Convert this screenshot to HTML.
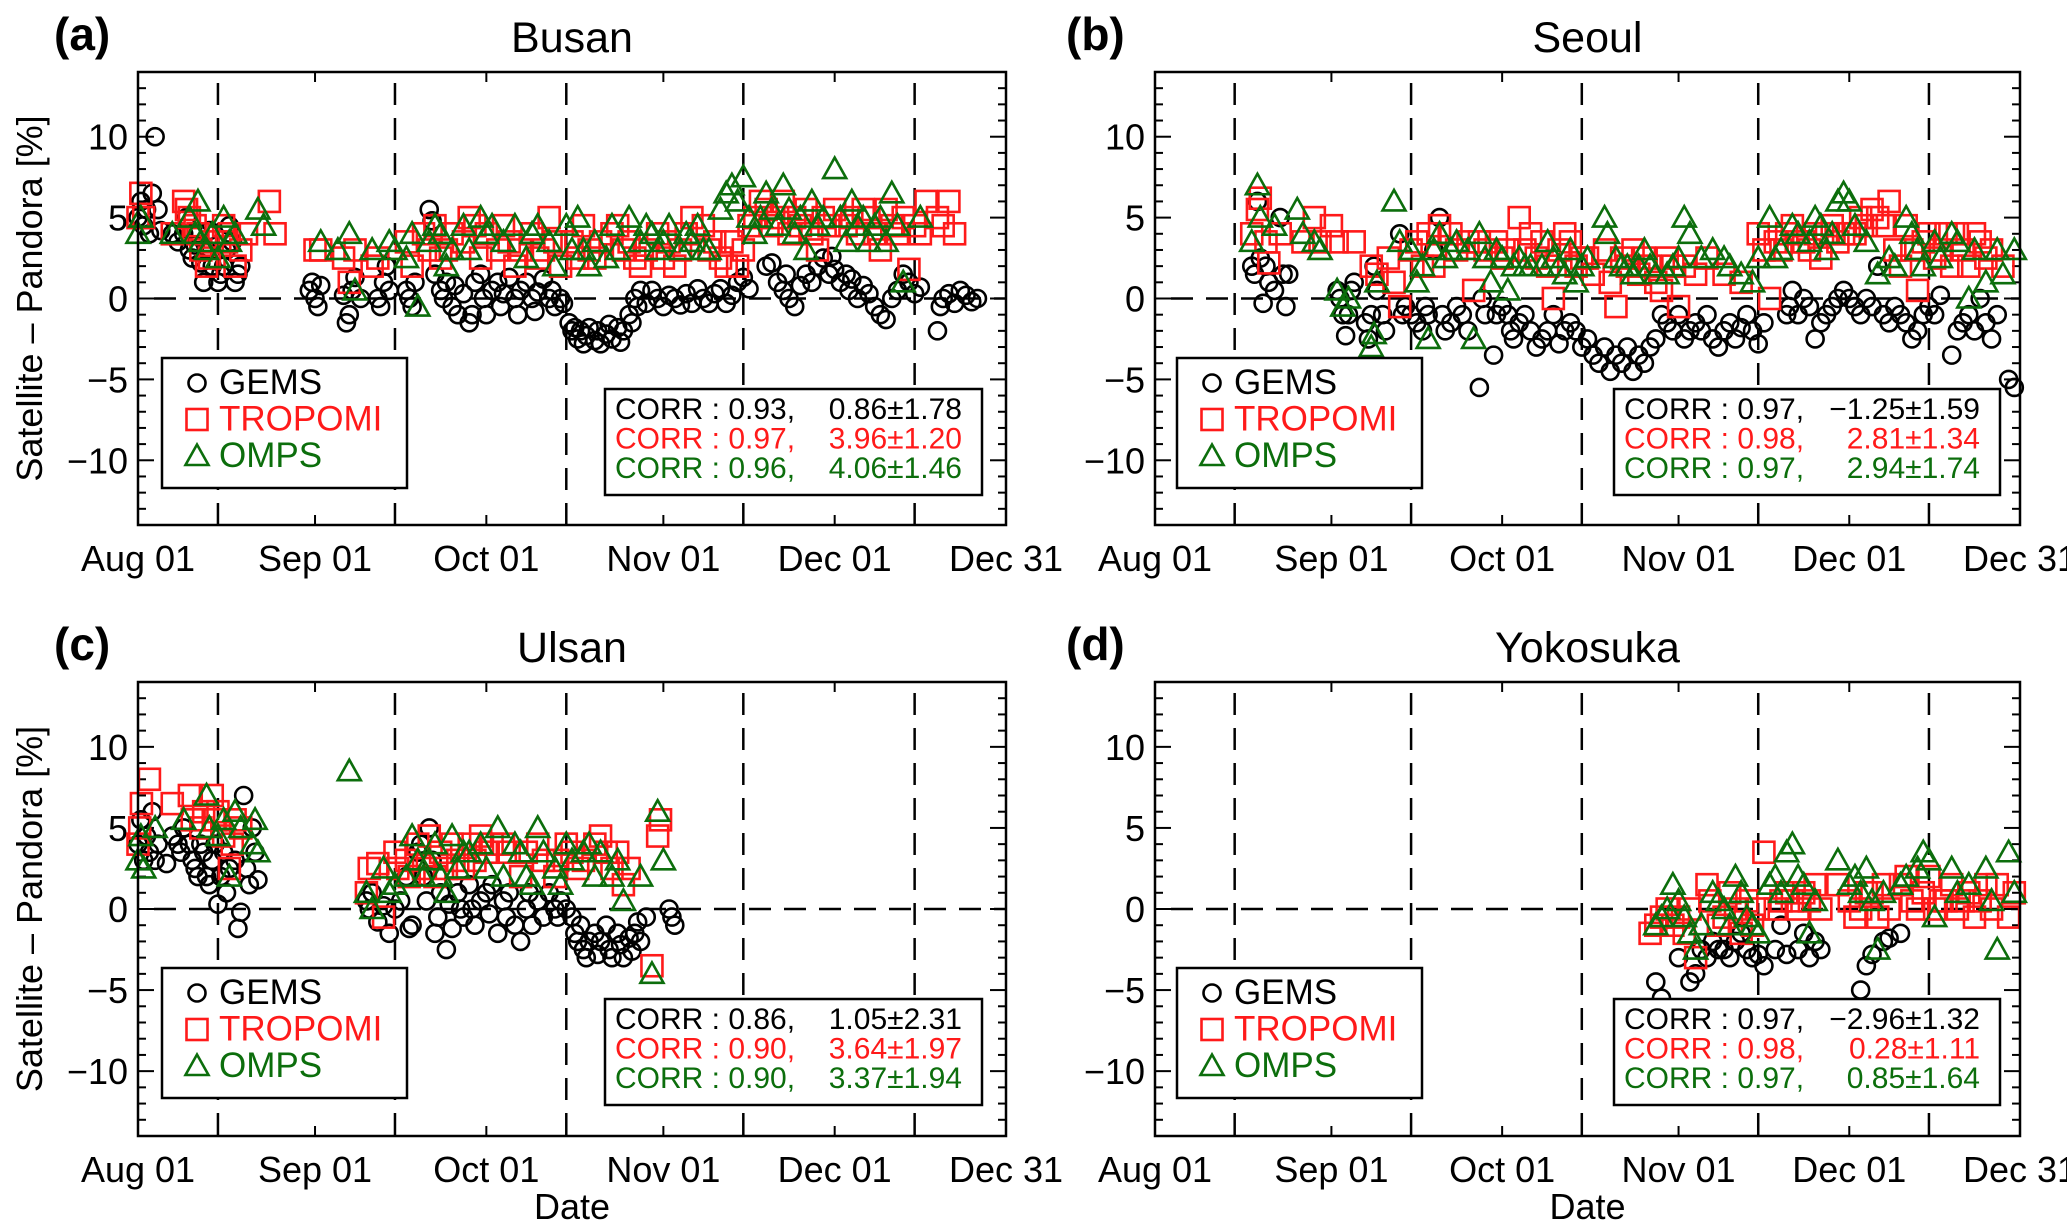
<!DOCTYPE html>
<html><head><meta charset="utf-8"><title>Satellite - Pandora</title>
<style>
html,body{margin:0;padding:0;background:#fff;}
svg{display:block;font-family:"Liberation Sans",Arial,sans-serif;}
</style></head>
<body>
<svg id="fig" width="2067" height="1229" viewBox="0 0 2067 1229" xmlns="http://www.w3.org/2000/svg"></svg>
<script>
// ---- shared axis data ----
const monthLabels = ['Aug 01','Sep 01','Oct 01','Nov 01','Dec 01','Dec 31'];
const monthDays = [0,31,61,92,122,152];
const dashDays = [14,45,75,106,136];
const yTickValues = [-10,-5,0,5,10];
const yTickLabels = ['\u221210','\u22125','0','5','10'];

// ---- Busan ----
const busanGems = [[0,5],[0.5,6],[1,4.5],[1.5,5.5],[2,4],[2.5,6.5],[3,10],[3.5,5.5],[4,4.2],[6,4],[7,3.5],[8,4],[8.5,5],[9,3],[9.5,2.5],[10,3.3],[10.5,4],[11,2.2],[11.5,1],[12,3],[12.5,4.2],[13,2],[14,1],[14.5,1.5],[15,2],[15.5,3],[16,4.5],[16.5,3.5],[17,1],[17.5,1.5],[18,2],[30,0.5],[30.5,1],[31,0],[31.5,-0.5],[32,0.8],[36,0.2],[36.5,-1.5],[37,-1],[37.5,0.5],[38,1.3],[39,0],[42,0],[42.5,-0.5],[43,1],[43.5,2],[44,0.5],[47,0.5],[47.5,0],[48,-0.5],[48.5,1],[51,5.5],[51.5,4.8],[52,1.5],[53,0.5],[53.5,0],[54,1],[55,-0.5],[55.5,0.8],[56,-1],[57,0.3],[58,-1.5],[58.5,-1],[59,1],[60,1.5],[60.5,0],[61,-1],[62,0.5],[63,1],[63.5,-0.5],[64,0.3],[65,1.3],[66,0],[66.5,-1],[67,0.5],[68,1],[69,0],[69.5,-0.8],[70,0.4],[71,1.2],[72,0],[72.5,0.5],[73,-0.5],[74,0],[74.5,-0.3],[75.5,-1.5],[76,-2],[76.5,-1.8],[77,-2.5],[77.5,-2],[78,-2.8],[78.5,-2.3],[79,-1.8],[80,-2.6],[80.5,-2],[81,-2.8],[82,-2.2],[82.5,-1.6],[83,-2.5],[84,-1.8],[84.5,-2.7],[85,-2],[86,-1],[86.5,-1.5],[87,0],[87.5,-0.5],[88,0.5],[89,-0.3],[90,0.5],[91,0],[92,-0.5],[93,0.2],[94,0],[95,-0.4],[96,0.3],[97,-0.3],[98,0.6],[99,0],[100,-0.3],[101,0.3],[102,0.6],[103,-0.3],[104,0.2],[105,1],[106,1.3],[107,0.6],[110,2],[111,2.2],[112,1],[113,0.5],[113.5,1.5],[114,0],[115,-0.5],[116,0.8],[117,1.5],[118,1],[119,2],[120,2.5],[121,1.5],[121.5,2.6],[122,1.8],[123,1],[124,1.5],[124.5,0.5],[125,1.2],[126,0],[127,0.8],[128,0.3],[129,-0.5],[130,-1],[131,-1.3],[132,0],[133,0.5],[134,1.5],[135,1],[136,0.3],[137,0.7],[140,-2],[140.5,-0.5],[141,0],[142,0.3],[143,-0.3],[144,0.5],[145,0.2],[146,-0.2],[147,0]];
const busanTropomi = [[0,5],[0.5,6.5],[1,5],[6,4],[8,6],[8.5,5.5],[9,5],[10,4.5],[10.5,4],[11,3],[12,2],[12.5,2.5],[13,3.5],[15,4.5],[15.5,3.5],[16,4],[17,2],[18,3],[19,4],[23,6],[24,4],[31,3],[32,3],[36,2.5],[37,1],[38,3],[41,2],[42,2.5],[47,3.5],[48,2],[50,4],[51,3],[52,4.5],[53,2.5],[54,3],[55,4],[57,3.5],[58,5],[59,4.5],[60,2.5],[61,4],[63,3],[64,4.5],[65,3.5],[66,2],[67,3],[69,4],[70,2.5],[71,3],[72,5],[73,3.5],[74,2],[76,3.5],[77,2.5],[78,4.5],[79,3],[80,2.5],[81,3.5],[83,4],[84,4.5],[85,3],[86,3.5],[87,2.5],[88,2],[89,3],[91,4],[92,2.5],[93,3.5],[94,2],[95,3],[96,4],[97,5],[99,4.5],[100,3],[101,3.5],[102,2.5],[103,2],[104,3.5],[105,2],[106,3],[107,4.5],[108,5],[109,6],[110,5.5],[111,4.5],[112,5],[113,6],[114,4],[115,5],[116,4.5],[117,5.5],[118,4],[119,3],[120,5],[121,4.5],[122,5.5],[124,4.5],[125,5],[126,4],[127,5.5],[128,5],[129,4],[130,3],[131,5.5],[132,4.5],[133,4],[134,5],[135,1.8],[136,4.5],[137,4],[138,6],[140,5],[141,4.5],[142,6],[143,4]];
const busanOmps = [[0,4],[0.5,5],[6,4],[9,5],[10,4],[10.5,6],[11,3.5],[12,3],[13,4],[14,2.5],[15,5],[16,3.5],[17,4],[21,5.5],[22,4.5],[32,3.5],[35,3],[37,4],[38,0.5],[41,3],[44,3.5],[45,3],[47,2.5],[48,4],[49,-0.5],[51,3.5],[52,4.5],[53,4],[54,2],[55,3],[57,4.5],[58,3],[60,5],[61,4],[62,4.5],[64,3.5],[66,4.5],[68,2.5],[69,4],[70,4.5],[72,3.5],[73,2],[75,4.5],[76,3],[77,5],[78,3],[79,2],[80,3.5],[82,2.5],[83,4.5],[84,3],[86,5],[88,3.5],[89,4.5],[90,4],[91,3],[92,3.5],[93,4.5],[95,3],[96,4],[97,3.5],[98,4.5],[99,3],[100,3],[102,5.5],[103,6.5],[104,7],[105,6],[106,7.5],[107,5],[108,4],[109,5],[110,6.5],[111,5.5],[112,4.5],[113,7],[114,5.5],[115,4],[116,5],[117,3],[118,6],[119,4.5],[120,5],[122,8],[123,5],[124,3.5],[125,6],[126,4.5],[127,5],[128,3.5],[129,4.5],[130,5],[131,3.5],[132,6.5],[133,4.5],[134,1],[137,5]];

// ---- Seoul ----
const seoulGems = [[17,2],[17.5,1.5],[18,6],[18.5,2.5],[19,-0.3],[19.5,2],[20,1],[21,0.5],[22,5],[22.5,1.5],[23,-0.5],[23.5,1.5],[32,0.5],[32.5,0],[33,-1],[33.5,-2.3],[34,-1],[34.5,0.5],[35,1],[37,-1.5],[37.5,-2.5],[38,-1],[38.5,2],[39,0.5],[40,-1],[40.5,-2],[43,4],[43.5,-1],[44,-0.5],[45,-1],[46,-1.5],[47,-2],[47.5,-0.5],[48,-1],[49,3],[50,5],[50.5,-1],[51,-2],[52,-1.5],[53,-0.5],[54,-1],[55,-2],[57,-5.5],[57.5,0],[58,-1],[59.5,-3.5],[60,-1],[61,-0.5],[62,-1],[62.5,-2],[63,-2.5],[64,-1.5],[65,-1],[66,-2],[67,-3],[68,-2.5],[69,-2],[70,-1],[71,-2.8],[72,-2],[73,-1.5],[74,-2],[75,-3],[76,-2.5],[77,-3.5],[78,-4],[79,-3],[80,-4.5],[81,-3.5],[82,-4],[83,-3],[84,-4.5],[85,-3.5],[86,-4],[87,-3],[88,-2.5],[89,-1],[90,-1.5],[91,-2],[92,-1],[93,-2.5],[94,-2],[95,-1.5],[96,-2],[97,-1],[98,-2.5],[99,-3],[100,-2],[101,-1.5],[102,-2.5],[103,-1.8],[104,-1],[105,-2],[106,-2.8],[107,-1.5],[111,-1],[111.5,-0.5],[112,0.5],[113,-1],[114,0],[115,-0.5],[116,-2.5],[117,-1.5],[118,-1],[119,-0.5],[120,0],[121,0.5],[122,0],[123,-0.5],[124,-1],[125,0],[126,-0.5],[127,2],[128,-1],[129,-1.5],[130,-0.5],[131,-1],[132,-1.5],[133,-2.5],[134,-2],[135,-1],[136,-0.5],[137,-1],[138,0.2],[140,-3.5],[141,-2],[142,-1.5],[143,-1],[144,-2],[145,0],[146,-1.5],[147,-2.5],[148,-1],[150,-5],[151,-5.5]];
const seoulTropomi = [[17,4],[18,5.5],[18.5,6.2],[19.5,3.5],[20,2.2],[22,4],[26,3.5],[28,5],[29,3.5],[31,4.5],[32,3.5],[35,3.5],[38,2],[39,1.5],[41,2.5],[42,1],[43,-0.5],[45,3],[46,3.5],[47,2],[48,4],[49,2],[50,4.5],[52,4],[53,3],[55,3.5],[56,0.5],[57,3.5],[58,3],[60,3.5],[61,2.5],[62,3],[64,5],[65,3],[66,4],[67,2.5],[68,3.5],[69,2],[70,0],[71,3],[72,4],[73,3.5],[74,2],[75,2.5],[76,2.5],[77,1.5],[79,3],[80,1],[81,-0.5],[82,2.5],[83,2],[84,3],[85,1.5],[86,2.5],[87,2],[88,1],[89,0.5],[90,2.5],[91,2],[92,-0.5],[93,2],[95,1.5],[97,2.5],[100,1.5],[103,1],[106,4],[107,3],[108,0],[109,3.5],[110,3],[111,4],[112,4.5],[113,3.5],[114,3.5],[115,3],[116,4],[117,2.5],[118,4],[119,4.5],[120,3.5],[121,4],[122,4],[123,4],[124,5],[125,4.5],[126,5.5],[127,5],[128,4.5],[129,6],[130,3],[131,2],[132,4.5],[133,3],[134,0.5],[135,3.5],[136,4],[137,2.5],[138,3],[139,4],[140,2],[141,4],[142,3],[143,2],[144,4],[145,3.5],[146,2.5],[147,3],[149,2]];
const seoulOmps = [[17,3.5],[18,7],[18.5,5],[21,4.5],[25,5.5],[26,4],[28,3.5],[29,3],[32,0.5],[33,-0.5],[34,0],[38,-3],[38.5,-2.2],[39,1],[42,6],[43,3.5],[45,3],[46,1],[47,2],[48,-2.5],[49,3],[50,4],[51,2.5],[52,3],[53,3.5],[55,3],[56,-2.5],[57,4],[58,2.5],[59,1],[60,3],[61,2.5],[62,0.5],[63,2],[64,2.5],[65,2],[66,2],[68,2],[69,3.5],[70,2.5],[71,2],[72,1.5],[73,3],[74,1],[75,2],[76,2.5],[79,5],[79.5,4],[81,2.5],[82,2],[83,2],[84,1.5],[85,2],[86,3],[87,2],[88,1.5],[90,1.5],[91,2],[92,2.5],[93,5],[94,4],[96,2.5],[98,3],[100,2.5],[101,2],[103,1.5],[105,1],[106,2.5],[108,5],[109,2.5],[110,3],[112,4.5],[113,4],[115,3.5],[116,5],[117,4.5],[118,3],[119,4],[120,6],[121,6.5],[122,6],[123,4.5],[125,3.5],[127,1.5],[129,2.5],[130,2],[132,5],[133,4],[134,3],[135,2],[137,3.5],[138,2.5],[140,4],[141,3.5],[143,0],[144,3],[146,1],[148,3],[149,1.5],[151,3]];

// ---- Ulsan ----
const ulsanGems = [[0,4],[0.5,5.5],[1,3],[1.5,4.5],[2,3.5],[2.5,6],[3,3],[3.5,4],[5,2.8],[6,4.5],[7,4],[7.5,3.5],[8,5],[9,4],[9.5,3],[10,2.5],[10.5,2],[11,4],[11.5,3.5],[12,2],[12.5,1.5],[13,3],[13.5,4],[14,0.3],[14.5,2],[15,3.5],[15.5,1],[16,2.5],[17,3],[17.5,-1.2],[18,-0.2],[18.5,7],[19,2.5],[19.5,1.5],[20,5],[20.5,3.5],[21,1.8],[40,0.5],[40.5,0],[41,1],[42,-0.8],[43,0.2],[44,-1.5],[45,0],[46,0.5],[47,2],[47.5,-1.2],[48,-1],[49,3.5],[49.5,4],[50,2],[50.5,0.5],[51,5],[51.5,3],[52,-1.5],[52.5,-0.5],[53,1],[54,-2.5],[54.5,0.3],[55,-1.2],[56,1],[56.5,0],[57,-0.5],[58,1.5],[58.5,0],[59,-1],[60,0.5],[61,1],[61.5,-0.3],[62,1.5],[63,-1.5],[64,0.5],[64.5,-0.5],[65,1],[66,-1],[67,-2],[68,0],[68.5,1],[69,-1],[70,0.5],[71,-0.5],[72,1],[73,0],[73.5,-0.5],[74,0.5],[75,0],[76,-0.5],[76.5,-1.5],[77,-2],[77.5,-1],[78,-2.5],[78.5,-3],[79,-2],[80,-1.5],[80.5,-2.8],[81,-2],[82,-1],[82.5,-2.5],[83,-3],[84,-1.5],[84.5,-2.2],[85,-3],[86,-1.8],[86.5,-2.6],[87,-1.5],[87.5,-0.8],[88,-2],[89,-0.5],[93,0],[93.5,-0.5],[94,-1]];
const ulsanTropomi = [[0,4],[0.3,5],[0.6,6.5],[2,8],[6,6.5],[9,7],[9.5,5.5],[11,5],[11.5,6],[13,7],[13.5,5.5],[14,6],[15,4.5],[16,2.5],[16.5,4],[17,5.5],[18,5],[40,1],[40.5,2.5],[42,2.8],[43,-0.5],[45,3.5],[45.5,2.5],[47,3],[47.5,2],[49,4],[50,2.5],[51,4.5],[52,2],[53,3.5],[54,2.5],[55,4],[56,3],[57,2.5],[58,4],[59,3],[60,4.5],[61,3.5],[62,4],[64,4],[65,3.5],[67,2],[68,3.5],[70,4],[71,3],[73,2],[73.5,3],[75,4],[76,3.5],[77,2.5],[78,3],[80,4],[81,4.5],[82,3.5],[83,2.5],[84,3.5],[85,1.5],[86,2.5],[90,-3.5],[91,4.5],[91.5,5.5]];
const ulsanOmps = [[0,3],[0.5,4.5],[1,2.5],[3,5],[8,5.5],[12,7],[12.5,5],[14,4.5],[15,5.5],[16,2],[17,6],[18,5],[20,4],[20.5,5.5],[21,3.5],[37,8.5],[40,1],[41,0],[43,2.5],[44,1],[45,1.5],[47,2],[48,4.5],[49,3],[50,2],[51,3],[52,4],[53,2],[54,1],[55,4.5],[56,2.5],[57,3.5],[58,3.5],[60,4],[61,2.5],[63,5],[64,2],[66,4],[67,3.5],[68,2],[69,1.5],[70,5],[71,3.5],[73,2.5],[74,1.5],[75,4],[76,3],[78,3.5],[79,4],[80,2],[81,3.5],[83,2],[84,3],[85,0.5],[88,2],[90,-4],[91,6],[92,3]];

// ---- Yokosuka ----
const yokoGems = [[88,-4.5],[89,-5.5],[92,-3],[94,-4.5],[95,-4],[96,-2.5],[97,-3],[98,-2],[99,-2.5],[100,-2.5],[101,-3],[102,-2],[103,-1.5],[104,-2.5],[105,-3],[106,-2.8],[107,-3.5],[109,-2.5],[110,-1],[111,-2.8],[113,-2.5],[114,-1.5],[115,-3],[116,-2],[117,-2.5],[124,-5],[125,-3.5],[126,-2.8],[128,-2],[129,-1.8],[131,-1.5]];
const yokoTropomi = [[87,-1.5],[88,-1],[89,-0.5],[90,0],[91,-1],[92,-0.5],[93,-1.5],[94,0],[95,-3],[97,1.5],[97.5,0.5],[99,-1],[100,-0.5],[101,1],[102,0],[103,-1.5],[104,0.5],[105,-1],[106,0],[107,3.5],[109,0],[110,0.5],[111,1],[112,0.5],[113,0],[114,1],[115,0.5],[116,1.5],[117,0],[120,1.5],[122,0.5],[123,-0.5],[124,0],[125,1],[126,1],[127,-0.5],[128,1.5],[129,0],[131,1.5],[132,2],[133,0.5],[134,0],[135,1],[136,2],[137,0],[138,0.5],[139,0.5],[140,1.5],[141,0],[142,0.5],[143,1],[144,-0.5],[145,0.5],[146,1.5],[147,0],[148,1.5],[150,-0.5],[151,1]];
const yokoOmps = [[88,-1],[89,-0.5],[90,0],[91,1.5],[92,0.5],[93,-0.5],[94,-1.5],[95,-2.5],[96,-1],[98,1],[99,0.5],[100,0],[101,-1],[102,2],[103,1],[104,-0.5],[105,-1],[106,-1.5],[108,1.5],[109,2],[110,1],[111,3.5],[112,4],[113,2],[114,1.5],[115,-1.5],[116,0.5],[120,3],[122,1.5],[123,2],[124,1],[125,2.5],[126,0.5],[127,-2.5],[128,1],[131,1.5],[132,2],[134,2.5],[135,3.5],[136,3],[137,-0.5],[140,2.5],[141,1],[143,1.5],[146,2.5],[147,0.5],[148,-2.5],[150,3.5],[151,1]];

// ---- panel text ----
const panelTitles = ['Busan','Seoul','Ulsan','Yokosuka'];
const panelTags = ['(a)','(b)','(c)','(d)'];
const corrGems = [['CORR : 0.93,','0.86\u00b11.78'],['CORR : 0.97,','\u22121.25\u00b11.59'],['CORR : 0.86,','1.05\u00b12.31'],['CORR : 0.97,','\u22122.96\u00b11.32']];
const corrTropomi = [['CORR : 0.97,','3.96\u00b11.20'],['CORR : 0.98,','2.81\u00b11.34'],['CORR : 0.90,','3.64\u00b11.97'],['CORR : 0.98,','0.28\u00b11.11']];
const corrOmps = [['CORR : 0.96,','4.06\u00b11.46'],['CORR : 0.97,','2.94\u00b11.74'],['CORR : 0.90,','3.37\u00b11.94'],['CORR : 0.97,','0.85\u00b11.64']];
const seriesNames = ['GEMS','TROPOMI','OMPS'];

const NS = 'http://www.w3.org/2000/svg';
const svg = document.getElementById('fig');
const RED = '#ff1a1a', GREEN = '#0c6e0c';
const colors = ['#000', RED, GREEN];

function mk(tag, attrs, parent, txt){
  const e = document.createElementNS(NS, tag);
  for (const k in attrs) e.setAttribute(k, attrs[k]);
  if (txt !== undefined) e.textContent = txt;
  (parent || svg).appendChild(e);
  return e;
}

function marker(g, kind, cx, cy, col){
  let e;
  if (kind === 0) e = mk('circle', {cx:cx, cy:cy, r:8.5, fill:'none', stroke:col, 'stroke-width':2.6}, g);
  else if (kind === 1) e = mk('rect', {x:cx-10.5, y:cy-10.5, width:21, height:21, fill:'none', stroke:col, 'stroke-width':2.6}, g);
  else e = mk('polygon', {points:(cx-11.5)+','+(cy+9)+' '+(cx+11.5)+','+(cy+9)+' '+cx+','+(cy-11.5), fill:'none', stroke:col, 'stroke-width':2.6}, g);
  return e;
}

const panels = [
  {L:138, T:72, W:868, H:453, data:[busanGems, busanTropomi, busanOmps], lx:24, cx:467, cw:377, tagX:54, date:false},
  {L:1155, T:72, W:865, H:453, data:[seoulGems, seoulTropomi, seoulOmps], lx:22, cx:459, cw:386, tagX:1066, date:false},
  {L:138, T:682, W:868, H:454, data:[ulsanGems, ulsanTropomi, ulsanOmps], lx:24, cx:467, cw:377, tagX:54, date:true},
  {L:1155, T:682, W:865, H:454, data:[yokoGems, yokoTropomi, yokoOmps], lx:22, cx:459, cw:386, tagX:1066, date:true}
];

panels.forEach((p, i) => {
  const g = mk('g', {}, svg);
  
  
  const xs = d => p.L + d / 152 * p.W;
  const ys = v => p.T + p.H / 2 - v / 28 * p.H;

  const tag = mk('text', {x:p.tagX, y:p.T - 22, 'font-size':46, 'font-weight':'bold'}, g, panelTags[i]);
  
  
  const title = mk('text', {x:p.L + p.W / 2, y:p.T - 20, 'font-size':43, 'text-anchor':'middle'}, g, panelTitles[i]);
  
  

  for (let v = -13; v <= 13; v++) {
    const len = (v % 5 === 0) ? 16 : 8;
    mk('line', {x1:p.L, x2:p.L + len, y1:ys(v), y2:ys(v), stroke:'#000', 'stroke-width':2}, g);
    mk('line', {x1:p.L + p.W - len, x2:p.L + p.W, y1:ys(v), y2:ys(v), stroke:'#000', 'stroke-width':2}, g);
  }
  yTickValues.forEach((v, k) => {
    const t = mk('text', {x:p.L - 10, y:ys(v) + 13, 'font-size':36, 'text-anchor':'end'}, g, yTickLabels[k]);
    
    
  });
  monthDays.forEach((d, k) => {
    if (k > 0 && k < monthDays.length - 1) {
      mk('line', {x1:xs(d), x2:xs(d), y1:p.T, y2:p.T + 10, stroke:'#000', 'stroke-width':2}, g);
      mk('line', {x1:xs(d), x2:xs(d), y1:p.T + p.H - 10, y2:p.T + p.H, stroke:'#000', 'stroke-width':2}, g);
    }
    const t = mk('text', {x:xs(d), y:p.T + p.H + 46, 'font-size':36, 'text-anchor':'middle'}, g, monthLabels[k]);
    
    
  });
  dashDays.forEach(d => {
    const l = mk('line', {x1:xs(d), x2:xs(d), y1:p.T + 11, y2:p.T + p.H, stroke:'#000', 'stroke-width':2.5, 'stroke-dasharray':'22 13'}, g);
    
    
  });
  const zl = mk('line', {x1:p.L + 16, x2:p.L + p.W, y1:ys(0), y2:ys(0), stroke:'#000', 'stroke-width':2.5, 'stroke-dasharray':'22 13'}, g);
  
  

  p.data.forEach((series, s) => {
    const sg = mk('g', {}, g);
    
    
    series.forEach(pt => {
      const m = marker(sg, s, xs(pt[0]), ys(pt[1]), colors[s]);
      
      
    });
  });

  const fr = mk('rect', {x:p.L, y:p.T, width:p.W, height:p.H, fill:'none', stroke:'#000', 'stroke-width':2.5}, g);
  
  

  const lg = mk('g', {}, g);
  
  
  mk('rect', {x:p.L + p.lx, y:p.T + 286, width:245, height:130, fill:'#fff', stroke:'#000', 'stroke-width':2.5}, lg);
  seriesNames.forEach((n, s) => {
    const by = p.T + 322 + s * 36.5;
    marker(lg, s, p.L + p.lx + 35, by - 11, colors[s]);
    const t = mk('text', {x:p.L + p.lx + 57, y:by, 'font-size':35, fill:colors[s]}, lg, n);
    
    
  });

  const cb = mk('g', {}, g);
  
  
  mk('rect', {x:p.L + p.cx, y:p.T + 317, width:p.cw, height:106, fill:'#fff', stroke:'#000', 'stroke-width':2.5}, cb);
  [corrGems[i], corrTropomi[i], corrOmps[i]].forEach((row, s) => {
    const by = p.T + 347 + s * 29.5;
    const a = mk('text', {x:p.L + p.cx + 10, y:by, 'font-size':30, fill:colors[s]}, cb, row[0]);
    
    
    const b = mk('text', {x:p.L + p.cx + p.cw - 20, y:by, 'font-size':30, fill:colors[s], 'text-anchor':'end'}, cb, row[1]);
    
    
  });

  if (i % 2 === 0) {
    const cy = p.T + p.H / 2;
    const yt = mk('text', {x:0, y:0, 'font-size':36, 'text-anchor':'middle', transform:'translate(42,' + cy + ') rotate(-90)'}, g, 'Satellite \u2013 Pandora [%]');
    
    
  }
  if (p.date) {
    const dt = mk('text', {x:p.L + p.W / 2, y:1219, 'font-size':36, 'text-anchor':'middle'}, g, 'Date');
    
    
  }
});
</script>
</body></html>
